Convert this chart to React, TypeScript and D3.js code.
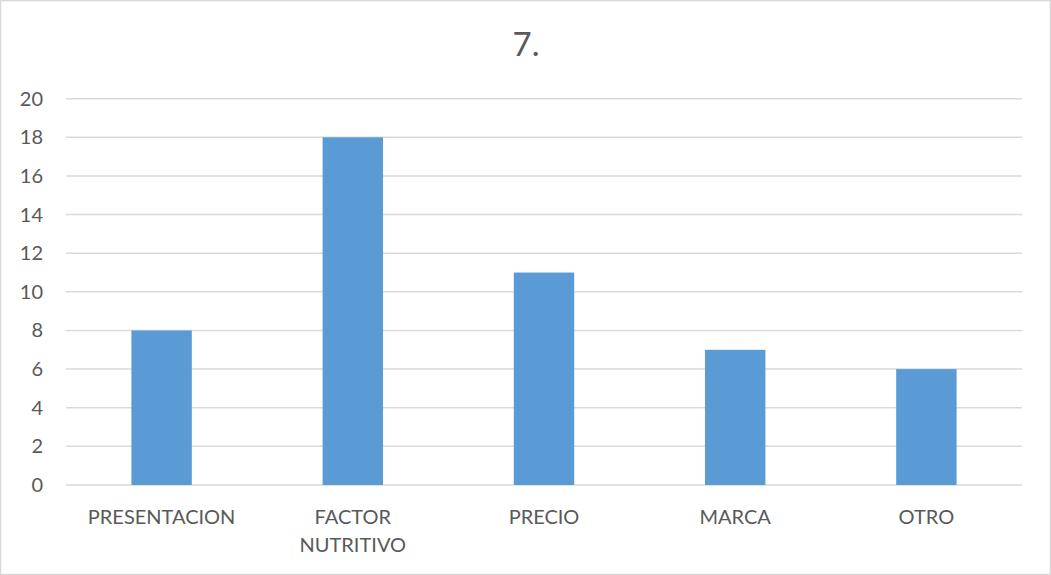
import React from "react";
import * as d3 from "d3";

const categories: string[][] = [
  ["PRESENTACION"],
  ["FACTOR", "NUTRITIVO"],
  ["PRECIO"],
  ["MARCA"],
  ["OTRO"],
];
const values: number[] = [8, 18, 11, 7, 6];
const yTicks: number[] = [0, 2, 4, 6, 8, 10, 12, 14, 16, 18, 20];
const title = "7.";

const W = 1051;
const H = 575;
const M = { left: 66, right: 1022, top: 98.7, bottom: 485 };
const FONT = "Lato, 'Open Sans', sans-serif";
const TEXT = "#595959";
const GRID = "#d9d9d9";
const BAR = "#5b9bd5";

export default function App() {
  const keys = categories.map((c) => c.join(" "));
  const x = d3.scaleBand<string>().domain(keys).range([M.left, M.right]).padding(0);
  const y = d3.scaleLinear().domain([0, 20]).range([M.bottom, M.top]);
  const barW = x.step() * 0.316;

  return (
    <svg
      width={W}
      height={H}
      style={{ position: "absolute", left: 0, top: 0, background: "#fff" }}
      fontFamily={FONT}
    >
      <rect x={0.5} y={0.5} width={W - 1} height={H - 1} fill="#fff" stroke={GRID} strokeWidth={1.5} />
      <text x={526} y={56} textAnchor="middle" fontSize={33} fill={TEXT}>
        {title}
      </text>
      {yTicks.map((t) => (
        <g key={t}>
          <line x1={M.left} x2={M.right} y1={y(t)} y2={y(t)} stroke={GRID} strokeWidth={1.5} />
          <text x={43} y={y(t)} dy="0.35em" textAnchor="end" fontSize={20} fill={TEXT}>
            {t}
          </text>
        </g>
      ))}
      {values.map((v, i) => {
        const cx = (x(keys[i]) as number) + x.bandwidth() / 2;
        return (
          <rect key={keys[i]} x={cx - barW / 2} y={y(v)} width={barW} height={y(0) - y(v)} fill={BAR} />
        );
      })}
      {categories.map((lines, i) => {
        const cx = (x(keys[i]) as number) + x.bandwidth() / 2;
        return (
          <text key={keys[i]} x={cx} y={524} textAnchor="middle" fontSize={20} fill={TEXT}>
            {lines.map((ln, j) => (
              <tspan key={j} x={cx} dy={j === 0 ? 0 : 27.6}>
                {ln}
              </tspan>
            ))}
          </text>
        );
      })}
    </svg>
  );
}
